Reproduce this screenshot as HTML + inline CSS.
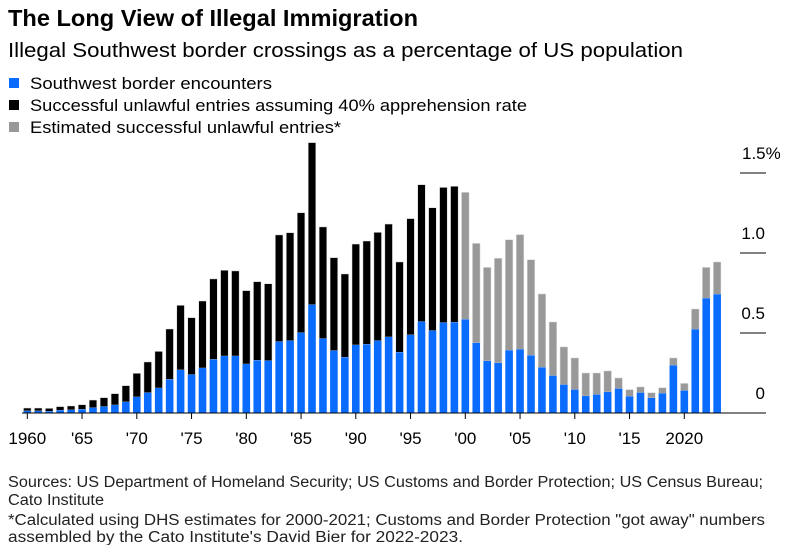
<!DOCTYPE html>
<html><head><meta charset="utf-8"><style>
body{margin:0;background:#fff;font-family:"Liberation Sans",Arial,sans-serif;color:#000}
svg text{font-family:"Liberation Sans",Arial,sans-serif}
</style></head><body>
<svg width="788" height="545" xmlns="http://www.w3.org/2000/svg">
<text x="8" y="26" font-size="23" font-weight="bold" textLength="410" lengthAdjust="spacingAndGlyphs">The Long View of Illegal Immigration</text>
<text x="8" y="57" font-size="20" textLength="675" lengthAdjust="spacingAndGlyphs">Illegal Southwest border crossings as a percentage of US population</text>
<g>
<rect x="9" y="78" width="10" height="10" fill="#0a6cff"/>
<text x="30" y="89" font-size="17" textLength="242" lengthAdjust="spacingAndGlyphs">Southwest border encounters</text>
<rect x="9" y="100" width="10" height="10" fill="#000"/>
<text x="30" y="111" font-size="17" textLength="497" lengthAdjust="spacingAndGlyphs">Successful unlawful entries assuming 40% apprehension rate</text>
<rect x="9" y="122" width="10" height="10" fill="#999"/>
<text x="30" y="133" font-size="17" textLength="311" lengthAdjust="spacingAndGlyphs">Estimated successful unlawful entries*</text>
</g>
<g id="plot"></g>
<g font-size="15.5" fill="#222">
<text x="8" y="487" textLength="755" lengthAdjust="spacingAndGlyphs">Sources: US Department of Homeland Security; US Customs and Border Protection; US Census Bureau;</text>
<text x="8" y="505" textLength="96" lengthAdjust="spacingAndGlyphs">Cato Institute</text>
<text x="8" y="525" textLength="757" lengthAdjust="spacingAndGlyphs">*Calculated using DHS estimates for 2000-2021; Customs and Border Protection "got away" numbers</text>
<text x="8" y="542" textLength="455" lengthAdjust="spacingAndGlyphs">assembled by the Cato Institute's David Bier for 2022-2023.</text>
</g>
</svg>
<script>
const years = [];
for (let y = 1960; y <= 2023; y++) years.push(y);
const encounters = [0.013,0.013,0.011,0.017,0.019,0.023,0.033,0.04,0.05,0.069,0.1,0.127,0.156,0.21,0.269,0.24,0.281,0.335,0.356,0.356,0.306,0.329,0.327,0.446,0.452,0.502,0.677,0.465,0.39,0.348,0.425,0.429,0.452,0.475,0.379,0.488,0.571,0.515,0.565,0.567,0.585,0.438,0.325,0.313,0.392,0.398,0.36,0.285,0.233,0.177,0.146,0.106,0.115,0.131,0.152,0.104,0.127,0.094,0.123,0.298,0.14,0.523,0.717,0.742];
const totals = [0.031,0.031,0.029,0.04,0.044,0.052,0.081,0.096,0.121,0.171,0.248,0.319,0.385,0.525,0.673,0.596,0.7,0.838,0.892,0.888,0.765,0.821,0.808,1.113,1.127,1.252,1.69,1.163,0.971,0.869,1.056,1.075,1.129,1.181,0.944,1.215,1.427,1.283,1.41,1.417,1.379,1.06,0.91,0.967,1.083,1.115,0.958,0.744,0.569,0.413,0.344,0.25,0.25,0.263,0.219,0.146,0.163,0.127,0.158,0.344,0.185,0.65,0.91,0.944];
const yTicks = [0, 0.5, 1.0, 1.5];
const yTickLabels = ["0", "0.5", "1.0", "1.5%"];
const xTickYears = [1960,1965,1970,1975,1980,1985,1990,1995,2000,2005,2010,2015,2020];
const xTickLabels = ["1960","'65","'70","'75","'80","'85","'90","'95","'00","'05","'10","'15","2020"];

const NS = "http://www.w3.org/2000/svg";
const plot = document.getElementById('plot');
const x = yr => 27.3 + (yr - 1960) * 10.95;
const y = v => 413 - v * 160;
function mk(tag, attrs) { const e = document.createElementNS(NS, tag); for (const k in attrs) e.setAttribute(k, attrs[k]); plot.appendChild(e); return e; }

yTicks.forEach((t, i) => {
  if (t > 0) {
    const g = mk('line', {x1: 740, x2: 766, y1: y(t), y2: y(t), stroke: '#000', 'stroke-width': 1});
    
    
  }
  const lab = yTickLabels[i];
  const tx = mk('text', {x: lab.indexOf('%') >= 0 ? 742 : 765, y: y(t) - 14, 'font-size': 17, 'text-anchor': lab.indexOf('%') >= 0 ? 'start' : 'end'});
  tx.textContent = lab;
  
  
});

const bw = 7.6;
years.forEach((yr, i) => {
  const cx = x(yr);
  const color = yr >= 2000 ? '#999999' : '#000000';
  const top = mk('rect', {x: cx - bw/2, y: y(totals[i]), width: bw, height: Math.max(0, y(encounters[i]) - y(totals[i])), fill: color, stroke: '#ddd', 'stroke-width': 0.5});
  
  
  const b = mk('rect', {x: cx - bw/2, y: y(encounters[i]), width: bw, height: y(0) - y(encounters[i]), fill: '#0a6cff'});
  
  
});

const base = mk('line', {x1: 22, x2: 766, y1: 413, y2: 413, stroke: '#000', 'stroke-width': 1});



xTickYears.forEach((yr, i) => {
  const t = mk('line', {x1: x(yr), x2: x(yr), y1: 413, y2: 419, stroke: '#000', 'stroke-width': 1});
  
  
  const l = mk('text', {x: x(yr), y: 444, 'font-size': 17, 'text-anchor': 'middle'});
  l.textContent = xTickLabels[i];
  
  
});
</script>
</body></html>
